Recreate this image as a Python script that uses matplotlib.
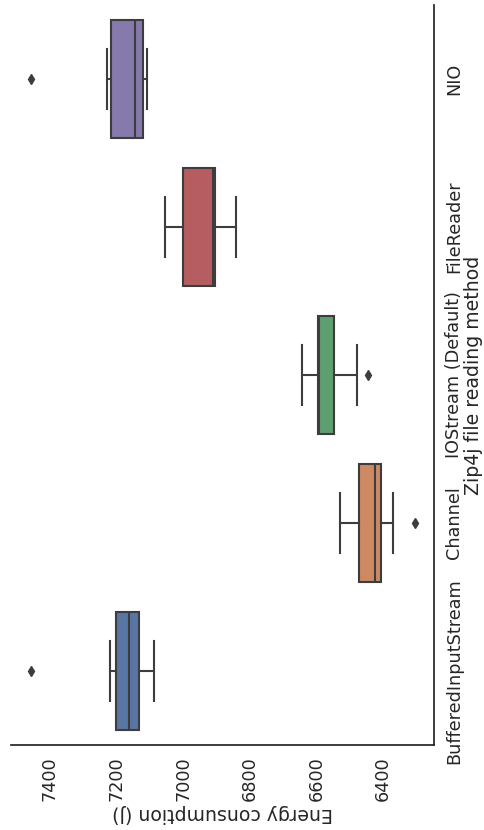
import matplotlib
matplotlib.use("Agg")
import matplotlib.pyplot as plt

# Zip4j reading methods, summary stats (J)
methods = ["BufferedInputStream", "Channel", "IOStream (Default)", "FileReader", "NIO"]
q1 = [7132, 6407, 6547, 6905, 7122]
med = [7162, 6425, 6592, 6912, 7146]
q3 = [7202, 6473, 6595, 7002, 7217]
whislo = [7087, 6370, 6478, 6840, 7109]
whishi = [7219, 6528, 6643, 7056, 7230]
fliers = [[7458], [6305], [6444], [], [7458]]
colors = ["#5975a4", "#cc8963", "#5f9e6e", "#b55d60", "#857aab"]
value_ticks = [6400, 6600, 6800, 7000, 7200, 7400]

line_col = "#3d3d3d"
text_col = "#262626"

stats = []
for i, name in enumerate(methods):
    stats.append(dict(label=name, q1=q1[i], med=med[i], q3=q3[i],
                      whislo=whislo[i], whishi=whishi[i], fliers=fliers[i]))

fig = plt.figure(figsize=(4.85, 8.3), dpi=100)
ax = fig.add_axes([11 / 485, 85 / 830, 423 / 485, 740 / 830])

lp = dict(color=line_col, linewidth=1.5)
bp = ax.bxp(stats, positions=range(len(methods)), widths=0.8,
            orientation="horizontal", patch_artist=True,
            boxprops=dict(edgecolor=line_col, linewidth=1.5),
            medianprops=lp, whiskerprops=lp, capprops=lp,
            flierprops=dict(marker="d", markerfacecolor=line_col,
                            markeredgecolor=line_col, markersize=5))
for patch, c in zip(bp["boxes"], colors):
    patch.set_facecolor(c)

ax.set_xlim(7517, 6247)
ax.set_ylim(-0.5, 4.5)

# value axis along the bottom, text turned like the rest of the figure
ax.set_xticks(value_ticks)
ax.set_xticklabels([str(v) for v in value_ticks], rotation=90, fontsize=12.7, color=text_col)
ax.set_xlabel("Energy consumption (J)", rotation=180, fontsize=13.6, color=text_col, labelpad=2)

# categories on the right side
ax.yaxis.tick_right()
ax.yaxis.set_label_position("right")
ax.set_yticks(range(len(methods)))
ax.set_yticklabels(methods, rotation=90, va="center", fontsize=12.7, color=text_col)
ax.set_ylabel("Zip4j file reading method", rotation=90, fontsize=13.6, color=text_col, labelpad=1)

ax.tick_params(length=0, pad=8)
for side in ["top", "left"]:
    ax.spines[side].set_visible(False)
for side in ["bottom", "right"]:
    ax.spines[side].set_color(text_col)
    ax.spines[side].set_linewidth(1.25)

fig.savefig("out.png", dpi=100)
